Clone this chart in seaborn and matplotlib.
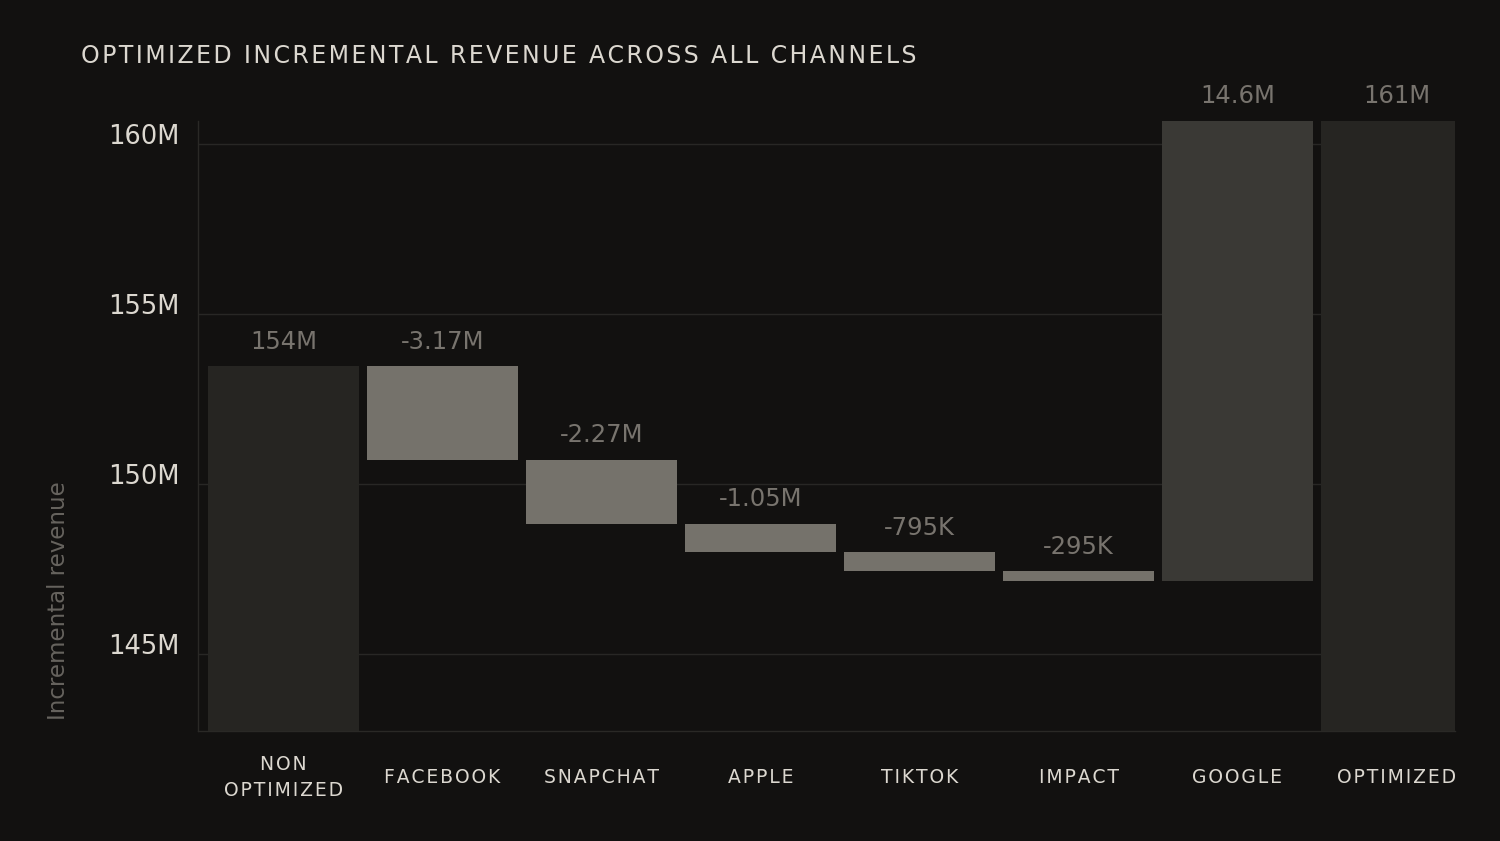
import matplotlib
matplotlib.use("Agg")
import matplotlib.pyplot as plt
import seaborn as sns
import pandas as pd
import numpy as np

# channels shown along the x axis
categories = ["NON\nOPTIMIZED", "FACEBOOK", "SNAPCHAT", "APPLE", "TIKTOK", "IMPACT", "GOOGLE", "OPTIMIZED"]
# revenue in millions
start_total = 153.47
changes = [-2.76, -1.885, -0.845, -0.55, -0.284, 13.55]
end_total = 160.70
# text printed above each bar
value_labels = ["154M", "-3.17M", "-2.27M", "-1.05M", "-795K", "-295K", "14.6M", "161M"]
y_ticks = [145, 150, 155, 160]
y_tick_labels = ["145M", "150M", "155M", "160M"]
title = "OPTIMIZED INCREMENTAL REVENUE ACROSS ALL CHANNELS"

bg = "#121110"
total_color = "#262522"
neg_color = "#75726b"
pos_color = "#3a3935"
grid_color = "#282725"
text_light = "#dcd8d0"
text_gray = "#78746e"


def tracked(s):
    # wide letter spacing like the original caps
    return "\n".join("\u200a".join(line) for line in s.split("\n"))


# waterfall geometry
levels = np.concatenate([[start_total], start_total + np.cumsum(changes)])
lows = np.minimum(levels[:-1], levels[1:])
highs = np.maximum(levels[:-1], levels[1:])
bottoms = np.concatenate([[0], lows, [0]])
heights = np.concatenate([[start_total], highs - lows, [end_total]])
tops = bottoms + heights
bar_colors = [total_color] + [neg_color if c < 0 else pos_color for c in changes] + [total_color]

df = pd.DataFrame({"channel": categories, "height": heights})

sns.set_style("dark", rc={"axes.facecolor": bg, "figure.facecolor": bg})
plt.rcParams["font.family"] = ["DejaVu Sans"]

fig = plt.figure(figsize=(15, 8.41), dpi=100)
ax = fig.add_axes([0.132, 0.1312, 0.838, 0.7249])

sns.barplot(data=df, x="channel", y="height", bottom=bottoms, width=0.95,
            color=total_color, saturation=1, errorbar=None, ax=ax, zorder=2)
for patch, c in zip(ax.patches, bar_colors):
    patch.set_facecolor(c)
    patch.set_edgecolor("none")
    patch.set_linewidth(0)

for i, (top, lbl) in enumerate(zip(tops, value_labels)):
    ax.annotate(lbl, xy=(i, top), xytext=(0, 12.6), textcoords="offset points",
                ha="center", va="baseline", fontsize=17.5, color=text_gray)

ax.set_ylim(142.73, 160.69)
ax.set_xlim(-0.538, 7.368)
ax.set_yticks(y_ticks, y_tick_labels)
ax.set_xticks(range(len(categories)), [tracked(c) for c in categories])
ax.yaxis.grid(True, color=grid_color, linewidth=1)
ax.xaxis.grid(False)
ax.set_axisbelow(True)

for side in ["top", "right"]:
    ax.spines[side].set_visible(False)
for side in ["left", "bottom"]:
    ax.spines[side].set_visible(True)
    ax.spines[side].set_color("#2a2926")
    ax.spines[side].set_linewidth(1)

ax.tick_params(axis="y", length=0, pad=13, labelsize=18.5, labelcolor=text_light)
ax.tick_params(axis="x", length=0, pad=33.5, labelsize=13.5, labelcolor=text_light)
for t in ax.get_xticklabels():
    t.set_va("center")
    t.set_linespacing(1.45)
for t in ax.get_yticklabels():
    t.set_va("baseline")

ax.set_xlabel("")
ax.set_ylabel("Incremental revenue", fontsize=16.5, color="#66635e")
ax.yaxis.set_label_coords(-0.102, 0.214)

fig.text(81 / 1500, 1 - 63 / 841, tracked(title),
         fontsize=17, color=text_light, ha="left", va="baseline")

fig.savefig("out.png", dpi=100, facecolor=bg)
